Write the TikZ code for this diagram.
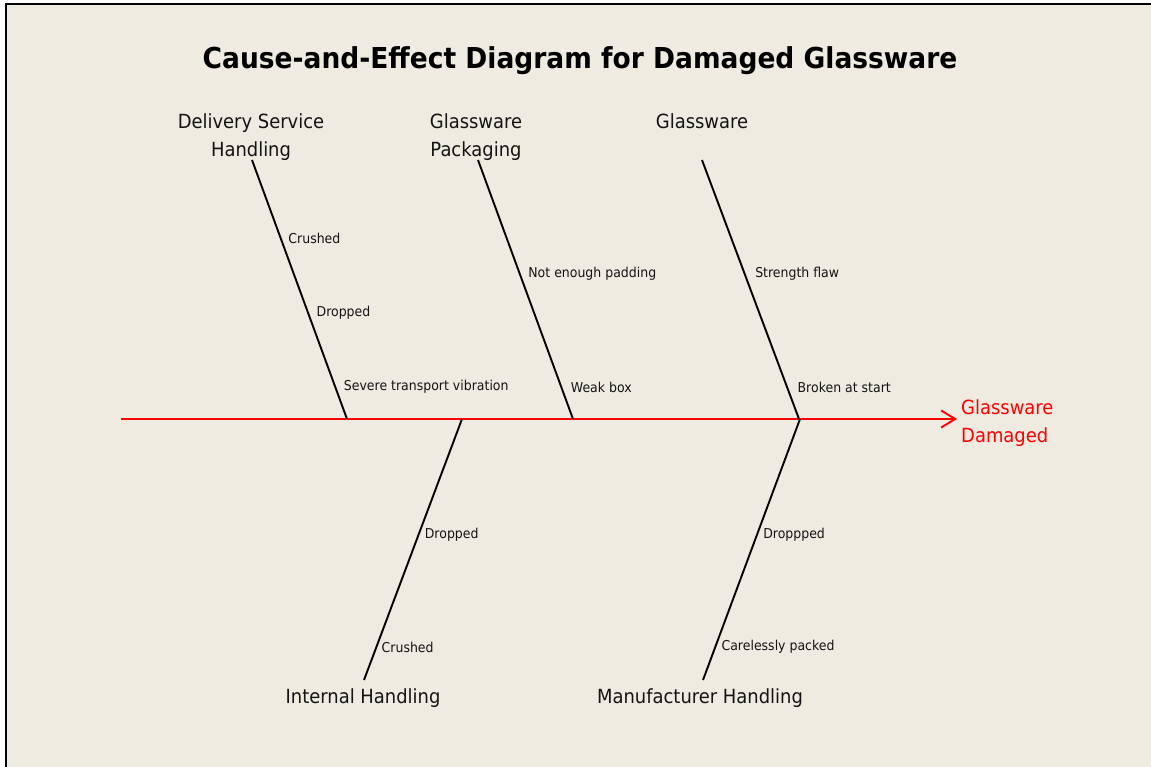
\documentclass[tikz,border=0pt]{standalone}
\usepackage{fontspec}
\setmainfont{DejaVu Sans}[FakeStretch=0.92]
\usetikzlibrary{arrows.meta}
\definecolor{paper}{RGB}{239,235,224}
\definecolor{ink}{RGB}{20,20,20}

\begin{document}
\begin{tikzpicture}
      [x=1pt,y=-1pt
      ,bone/.style={color=black,line width=1.9pt}
      ,spine/.style={color=red,line width=1.9pt,-{Straight Barb[length=14pt,width=17pt,line width=1.9pt]}}
      ,cat/.style={text=ink,font=\fontsize{19.5}{28}\selectfont,align=center,inner sep=0pt}
      ,sub/.style={text=ink,font=\fontsize{13.6}{15}\selectfont,anchor=west,inner sep=0pt}
      ,eff/.style={text=red,font=\fontsize{19.5}{28}\selectfont,align=left,anchor=west,inner sep=0pt}
      ]
        \useasboundingbox (0,0) rectangle (1151,767);
        \fill[paper] (6,4) rectangle (1151,767);
        \draw[line width=1.5pt] (6,767) -- (6,4) -- (1151,4);

        \node[text=black,font=\bfseries\fontsize{28.8}{30}\selectfont] (title) at (580,61)
          {Cause-and-Effect Diagram for Damaged Glassware};

        % spine and effect
        \coordinate (tail) at (121,419);
        \coordinate (head) at (957,419);
        \draw[spine] (tail) -- (head);
        \node[eff] (effect) at (961,423) {Glassware\\Damaged};

        % upper bones
        \coordinate (dsh top) at (252,160);  \coordinate (dsh foot) at (347,419);
        \coordinate (pack top) at (478,160); \coordinate (pack foot) at (573,419);
        \coordinate (glass top) at (702,160); \coordinate (glass foot) at (799,419);
        \node[cat] (dsh) at (251,137) {Delivery Service\\Handling};
        \node[cat] (pack) at (476,137) {Glassware\\Packaging};
        \node[cat] (glass) at (702,121) {Glassware};
        \draw[bone] (dsh top) -- (dsh foot)
          node[sub,pos=.30,xshift=7pt,yshift=-1pt] (dsh1) {Crushed}
          node[sub,pos=.586,xshift=8pt,yshift=-1pt] (dsh2) {Dropped}
          node[sub,pos=.873,xshift=8pt,yshift=-1pt] (dsh3) {Severe transport vibration};
        \draw[bone] (pack top) -- (pack foot)
          node[sub,pos=.436,xshift=8pt,yshift=-1pt] (pack1) {Not enough padding}
          node[sub,pos=.873,xshift=9pt,yshift=-1pt] (pack2) {Weak box};
        \draw[bone] (glass top) -- (glass foot)
          node[sub,pos=.436,xshift=10pt,yshift=-1pt] (glass1) {Strength flaw}
          node[sub,pos=.873,xshift=10pt,yshift=-1pt] (glass2) {Broken at start};

        % lower bones
        \coordinate (int top) at (462,419);  \coordinate (int foot) at (364,680);
        \coordinate (man top) at (800,419);  \coordinate (man foot) at (703,680);
        \node[cat] (int) at (363,698) {Internal Handling};
        \node[cat] (man) at (700,698) {Manufacturer Handling};
        \draw[bone] (int top) -- (int foot)
          node[sub,pos=.44,xshift=5pt,yshift=-1pt] (int1) {Dropped}
          node[sub,pos=.87,xshift=4pt,yshift=-1pt] (int2) {Crushed};
        \draw[bone] (man top) -- (man foot)
          node[sub,pos=.44,xshift=5pt,yshift=-1pt] (man1) {Droppped}
          node[sub,pos=.87,xshift=5pt,yshift=-1pt] (man2) {Carelessly packed};
      \end{tikzpicture}
\end{document}
